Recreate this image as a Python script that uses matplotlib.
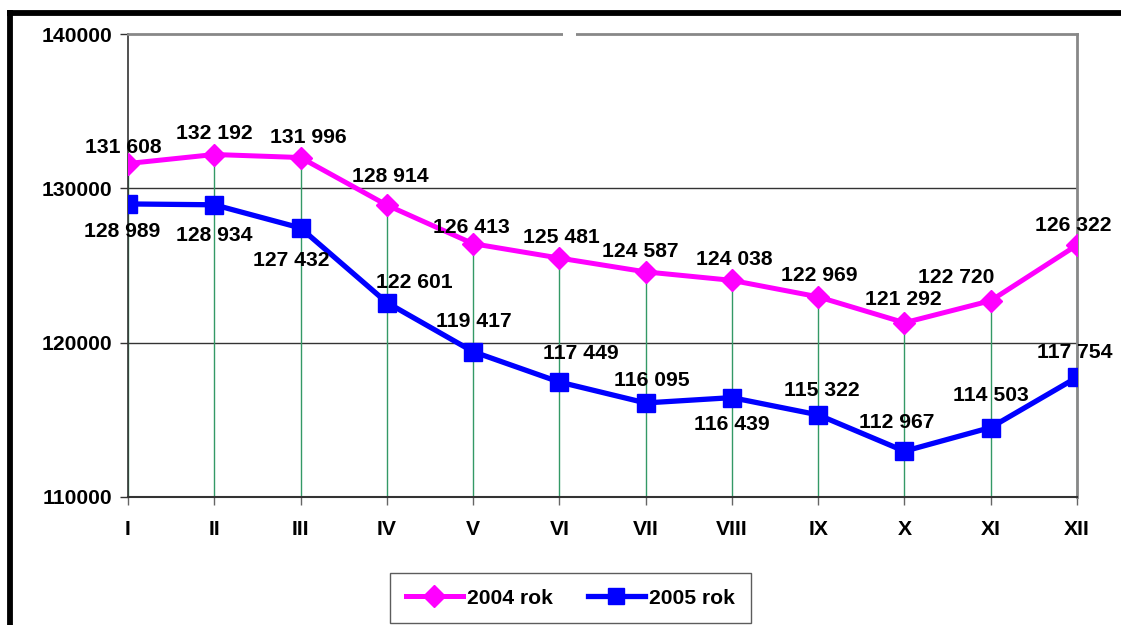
import matplotlib
matplotlib.use("Agg")
import matplotlib.pyplot as plt
from matplotlib.lines import Line2D
from matplotlib.patches import Rectangle

plt.rcParams["font.family"] = ["Liberation Sans", "DejaVu Sans"]

months = ["I", "II", "III", "IV", "V", "VI", "VII", "VIII", "IX", "X", "XI", "XII"]
rok_2004 = [131608, 132192, 131996, 128914, 126413, 125481, 124587, 124038, 122969, 121292, 122720, 126322]
rok_2005 = [128989, 128934, 127432, 122601, 119417, 117449, 116095, 116439, 115322, 112967, 114503, 117754]

# label offsets in pixels (dx, dy), dy positive = up
off_2004 = [(-5, 16), (0, 21), (8, 20), (3, 29), (-2, 16), (2, 21), (-5, 20), (2, 21), (1, 21), (-1, 23), (-35, 23), (-4, 20)]
off_2005 = [(-6, -28), (0, -31), (-9, -33), (27, 20), (1, 30), (21, 29), (6, 22), (0, -27), (4, 24), (-8, 29), (0, 32), (-2, 25)]

W, H = 1121, 625
fig = plt.figure(figsize=(W / 100, H / 100), dpi=100)
ax = fig.add_axes([128 / W, 1 - 497 / H, (1077 - 128) / W, (497 - 34) / H])

x = list(range(len(months)))
fs = 15.2

# drop lines
ax.vlines(x, 110000, rok_2004, colors="#339966", linewidth=1, zorder=1)

ax.plot(x, rok_2004, color="#ff00ff", lw=3.6, marker="D", markersize=11.5, label="2004 rok", zorder=3)
ax.plot(x, rok_2005, color="#0000ff", lw=3.8, marker="s", markersize=13, label="2005 rok", zorder=3)

def fmt(v):
    return f"{v:,}".replace(",", " ")

for i, v in enumerate(rok_2004):
    ax.annotate(fmt(v), (i, v), xytext=off_2004[i], textcoords="offset pixels",
                ha="center", va="center", fontsize=fs, fontweight="bold", zorder=5)
for i, v in enumerate(rok_2005):
    ax.annotate(fmt(v), (i, v), xytext=off_2005[i], textcoords="offset pixels",
                ha="center", va="center", fontsize=fs, fontweight="bold", zorder=5)

ax.set_xlim(0, 11)
ax.set_ylim(110000, 140000)
ax.set_yticks([110000, 120000, 130000, 140000])
ax.set_yticklabels(["110000", "120000", "130000", "140000"], fontsize=fs, fontweight="bold")
ax.set_xticks(x)
ax.set_xticklabels(months, fontsize=fs, fontweight="bold")
ax.tick_params(axis="y", length=6, width=1, color="#333333", pad=5.5)
ax.tick_params(axis="x", length=6, width=1, color="#666666", pad=10.5)

ax.axhline(120000, color="#333333", lw=1, zorder=0)
ax.axhline(130000, color="#333333", lw=1, zorder=0)

for s in ["top", "right"]:
    ax.spines[s].set_color("#888888")
    ax.spines[s].set_linewidth(2)
ax.spines["left"].set_color("#333333")
ax.spines["bottom"].set_color("#333333")
ax.spines["left"].set_linewidth(1.2)
ax.spines["bottom"].set_linewidth(1.5)

leg = ax.legend(loc="center", bbox_to_anchor=(388 / W, 1 - 624 / H, (753 - 388) / W, 52 / H),
                bbox_transform=fig.transFigure, ncol=2, frameon=True, fancybox=False,
                prop={"size": fs, "weight": "bold"}, handlelength=2.7, handletextpad=0.2,
                borderaxespad=0, columnspacing=1.65, borderpad=0.75)
leg.get_frame().set_edgecolor("#333333")
leg.get_frame().set_linewidth(1)
for h in leg.legend_handles:
    h.set_markersize(11)

# outer frame (top and left)
fig.add_artist(Line2D([7 / W, 1], [1 - 12.5 / H, 1 - 12.5 / H], color="black", lw=4.2,
                      solid_capstyle="butt", transform=fig.transFigure))
fig.add_artist(Line2D([10 / W, 10 / W], [1 - 10 / H, 0], color="black", lw=4.2,
                      solid_capstyle="butt", transform=fig.transFigure))
# small gap in top border of the plot area
fig.add_artist(Rectangle((563 / W, 1 - 37 / H), 13 / W, 6 / H, facecolor="white", edgecolor="none",
                         transform=fig.transFigure, zorder=10))

fig.savefig("out.png", dpi=100)
